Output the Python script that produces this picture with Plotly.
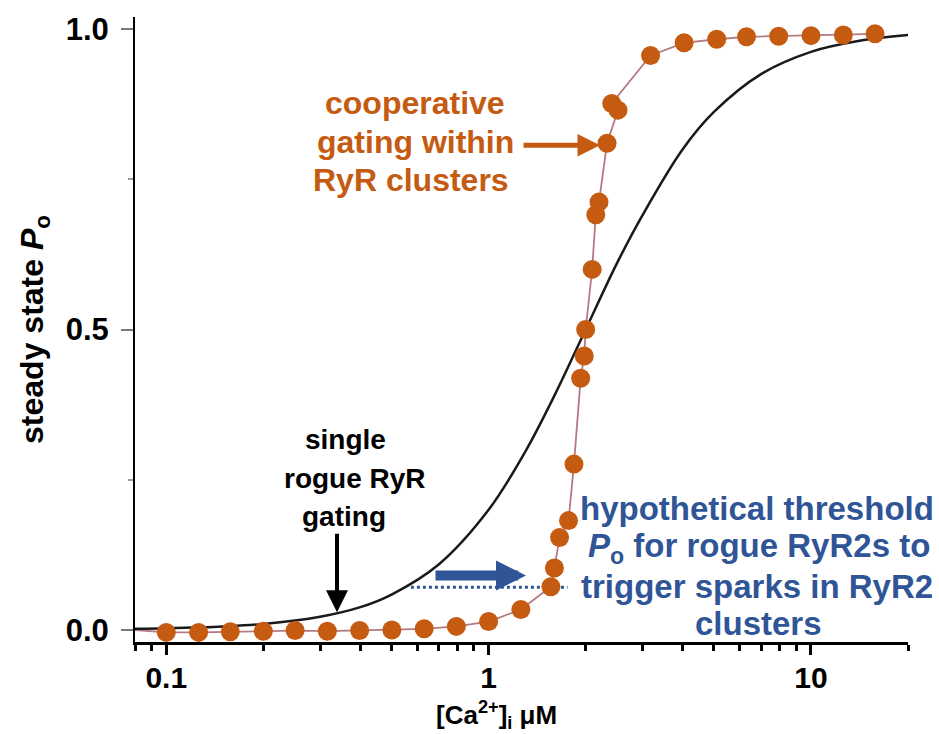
import plotly.graph_objects as go

# ---------------- data ----------------
# single rogue RyR: steady-state Po vs [Ca2+]i (black curve)
SINGLE_CA = [0.08, 0.1, 0.15, 0.2, 0.3, 0.4, 0.5, 0.7, 1.0, 1.3, 1.6, 2.0,
             2.5, 3.0, 4.0, 5.0, 7.0, 10.0, 14.0, 20.0]
SINGLE_PO = [0.002, 0.003, 0.006, 0.010, 0.022, 0.038, 0.059, 0.109, 0.200,
             0.297, 0.390, 0.500, 0.610, 0.690, 0.800, 0.862, 0.925, 0.962,
             0.980, 0.990]

# cooperative gating within RyR clusters (orange dots)
CLUSTER_CA = [0.1, 0.126, 0.158, 0.2, 0.251, 0.316, 0.398, 0.501, 0.631,
              0.794, 1.0, 1.259, 1.56, 1.60, 1.66, 1.77, 1.84, 1.93, 1.98,
              2.0, 2.095, 2.15, 2.20, 2.33, 2.41, 2.52, 3.18, 4.04, 5.1,
              6.31, 7.94, 10.0, 12.6, 15.8]
CLUSTER_PO = [-0.004, -0.004, -0.003, -0.002, -0.001, -0.002, -0.001, 0.0, 0.002,
              0.006, 0.014, 0.034, 0.072, 0.103, 0.154, 0.182, 0.276, 0.419,
              0.456, 0.500, 0.600, 0.691, 0.712, 0.810, 0.876, 0.865, 0.956,
              0.977, 0.983, 0.987, 0.988, 0.989, 0.990, 0.992]
# start of the simulated (thin) line at the left edge
LINE_START_CA = 0.08
LINE_START_PO = 0.0

# hypothetical threshold Po (blue dotted segment)
THRESH_CA = [0.574, 1.757]
THRESH_PO = [0.071, 0.071]

X_TICKS = [0.1, 1, 10]
X_TICKTEXT = ["0.1", "1", "10"]
Y_TICKS = [0.0, 0.5, 1.0]
Y_TICKTEXT = ["0.0", "0.5", "1.0"]

ORANGE_LINES = ["cooperative", "gating within", "RyR clusters"]
BLACK_LINES = ["single", "rogue RyR", "gating"]
BLUE_LINES = ["hypothetical threshold", "<i>P</i><sub>o</sub> for rogue RyR2s to",
              "trigger sparks in RyR2", "clusters"]
X_TITLE = "[Ca<sup>2+</sup>]<sub>i</sub> μM"
Y_TITLE = "steady state <i>P</i><sub>o</sub>"

# ---------------- styling ----------------
FONT = "Liberation Sans, Arial, Helvetica, sans-serif"
ORANGE = "#C55A11"
BLUE = "#2F5597"
PINK = "#B57A80"

W, H = 939, 734
ML, MR, MT, MB = 135, 31, 13, 92
PW, PH = W - ML - MR, H - MT - MB


def px(xp):
    return (xp - ML) / PW


def py(yp):
    return (MT + PH - yp) / PH


fig = go.Figure()

# cluster line (sorted along Po)
pairs = sorted(zip(CLUSTER_PO[12:], CLUSTER_CA[12:]))
line_ca = [LINE_START_CA] + CLUSTER_CA[:12] + [c for p, c in pairs]
line_po = [LINE_START_PO] + CLUSTER_PO[:12] + [p for p, c in pairs]
fig.add_trace(go.Scatter(x=line_ca, y=line_po, mode="lines",
                         line=dict(color=PINK, width=1.8),
                         hoverinfo="skip", showlegend=False))

# single channel curve
fig.add_trace(go.Scatter(x=SINGLE_CA, y=SINGLE_PO, mode="lines",
                         line=dict(color="#1a1a1a", width=2.5, shape="spline",
                                   smoothing=1.0),
                         showlegend=False))

# threshold dotted line
fig.add_trace(go.Scatter(x=THRESH_CA, y=THRESH_PO, mode="lines",
                         line=dict(color=BLUE, width=3, dash="dot"),
                         showlegend=False))

# cluster dots
fig.add_trace(go.Scatter(x=CLUSTER_CA, y=CLUSTER_PO, mode="markers",
                         marker=dict(color=ORANGE, size=19,
                                     line=dict(width=0)),
                         showlegend=False))


def text_lines(lines, xs, ys, size, color):
    out = []
    for t, xc, yc in zip(lines, xs, ys):
        out.append(dict(x=px(xc), y=py(yc), xref="paper", yref="paper",
                        text="<b>" + t + "</b>", showarrow=False,
                        xanchor="center", yanchor="middle",
                        font=dict(family=FONT, size=size, color=color)))
    return out


annotations = []
annotations += text_lines(ORANGE_LINES, [415, 415, 411], [100, 139, 177], 32, ORANGE)
annotations += text_lines(BLACK_LINES, [345, 355, 344], [438, 477, 516], 28, "black")
annotations += text_lines(BLUE_LINES, [757, 759, 757, 758], [508, 547, 586, 623], 33, BLUE)
annotations += text_lines([X_TITLE], [496], [715], 26, "black")

annotations += [
    # orange arrow
    dict(x=px(600), y=py(142), xref="paper", yref="paper", text="",
         showarrow=True, ax=-78, ay=0, arrowhead=2, arrowsize=0.9,
         arrowwidth=5, arrowcolor=ORANGE),
    # black arrow
    dict(x=px(337), y=py(612), xref="paper", yref="paper", text="",
         showarrow=True, ax=0, ay=-80, arrowhead=2, arrowsize=1.1,
         arrowwidth=4, arrowcolor="black"),
    # blue arrow
    dict(x=px(526), y=py(575), xref="paper", yref="paper", text="",
         showarrow=True, ax=-92, ay=0, arrowhead=2, arrowsize=0.6,
         arrowwidth=10, arrowcolor=BLUE),
]

fig.update_layout(
    width=W, height=H,
    margin=dict(l=ML, r=MR, t=MT, b=MB, pad=0),
    plot_bgcolor="white", paper_bgcolor="white",
    font=dict(family=FONT, color="black"),
    annotations=annotations,
)

fig.update_xaxes(
    type="log", range=[-1.097, 1.301],
    tickvals=X_TICKS, ticktext=X_TICKTEXT,
    showgrid=False, zeroline=False,
    showline=True, linecolor="black", linewidth=3,
    ticks="outside", ticklen=10, tickwidth=3, tickcolor="black",
    ticklabelstandoff=-3,
    tickfont=dict(family=FONT, size=30, color="black", weight="bold"),
    minor=dict(ticks="outside", ticklen=6, tickwidth=3, tickcolor="black",
               dtick="D1", showgrid=False),
)

fig.update_yaxes(
    range=[-0.02, 1.02],
    tickvals=Y_TICKS, ticktext=Y_TICKTEXT,
    showgrid=False, zeroline=False,
    showline=True, linecolor="black", linewidth=2,
    ticks="outside", ticklen=12, tickwidth=2, tickcolor="#777777",
    ticklabelstandoff=6,
    tickfont=dict(family=FONT, size=31, color="black", weight="bold"),
    minor=dict(ticks="outside", ticklen=5, tickwidth=1.5, tickcolor="#999999",
               tickvals=[0.25, 0.75], showgrid=False),
    title=dict(text="<b>" + Y_TITLE + "</b>",
               font=dict(family=FONT, size=32, color="black"), standoff=12),
)

fig.write_html("out.html",
               config={"displayModeBar": False},
               post_script="document.body.style.margin='0';"
                           "document.body.style.padding='0';")
